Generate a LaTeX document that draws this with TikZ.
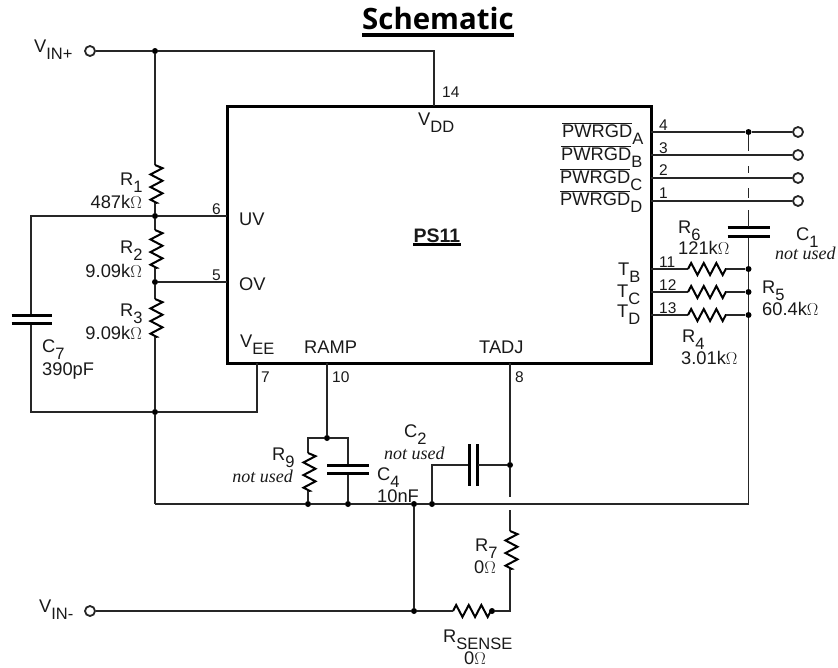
\documentclass[tikz,border=0pt]{standalone}
\usepackage{fontspec}
\setmainfont{Liberation Sans}
\newfontfamily\titlefont{Open Sans}
\newfontfamily\noteface{Liberation Serif}
\usetikzlibrary{decorations.pathmorphing}
\newcommand{\lsub}[2]{#1\raisebox{-7pt}{\fontsize{16.5}{16.5}\selectfont #2}}
\newcommand{\pwr}[1]{\lsub{$\overline{\mbox{PWRGD}}$}{#1}}
\tikzset{
    chip/.style = {rectangle, line width=3pt, draw=black, minimum width=424pt, minimum height=257pt, inner sep=0},
    wire/.style = {line width=1.2pt, draw=black!85},
    plate/.style = {line width=3pt, draw=black},
    res/.style = {line width=2pt, draw=black, decorate, decoration={zigzag, amplitude=6pt, segment length=12.6pt}},
    vres/.style = {line width=2pt, draw=black, decorate, decoration={zigzag, amplitude=6pt, segment length=12.6pt, raise=1.5pt}},
    dot/.style = {circle, fill=black, inner sep=0, minimum size=6pt},
    term/.style = {circle, line width=1.8pt, draw=black!85, fill=white, inner sep=0, minimum size=10pt},
    lbl/.style = {inner sep=0, anchor=base west, text=black!90, font=\fontsize{18.3}{18.3}\selectfont},
    lble/.style = {lbl, anchor=base east},
    pin/.style = {lbl, font=\fontsize{15.5}{15.5}\selectfont},
    note/.style = {lbl, font=\noteface\itshape\fontsize{18}{18}\selectfont},
    notee/.style = {note, anchor=base east},
}
\begin{document}
\begin{tikzpicture}[x=1pt,y=-1pt]
\useasboundingbox (0,0) rectangle (838,667);
%
\node[chip] at (439,234.5) (ps) {};
\node[inner sep=0, anchor=base west, font=\titlefont\bfseries\fontsize{29.4}{29.4}\selectfont] at (362,29) (title) {Schematic};
\node[lbl, anchor=base, font=\bfseries\fontsize{19.5}{19.5}\selectfont] at (437,242) (psname) {PS11};
\draw[line width=3.5pt] ([yshift=-6pt]title.base west) -- ([yshift=-6pt]title.base east);
\draw[line width=2.5pt] ([yshift=-2.5pt]psname.base west) -- ([yshift=-2.5pt]psname.base east);
%
\node[term] at (90,51) (vp) {};
\node[term] at (90,611) (vn) {};
\node[term] at (798,132) (ta) {};
\node[term] at (798,155) (tb) {};
\node[term] at (798,178) (tc) {};
\node[term] at (798,201) (td) {};
%
\node[dot] at (155,51) (j1) {};
\node[dot] at (155,216) (j2) {};
\node[dot] at (155,282) (j3) {};
\node[dot] at (155,412) (j4) {};
\node[dot] at (748.5,132) (j5) {};
\node[dot] at (748.5,269) (j6) {};
\node[dot] at (748.5,292) (j7) {};
\node[dot] at (748.5,315) (j8) {};
\node[dot] at (327,438) (j9) {};
\node[dot] at (308,504) (j10) {};
\node[dot] at (348,504) (j11) {};
\node[dot] at (414,504) (j12) {};
\node[dot] at (432,504) (j13) {};
\node[dot] at (510,465) (j14) {};
\node[dot] at (414,611) (j15) {};
\node[dot] at (492,611) (j16) {};
%
\coordinate (p14) at (434,106);
\coordinate (p6) at (227,216);
\coordinate (p5) at (227,282);
\coordinate (p7) at (257,363);
\coordinate (p10) at (327,363);
\coordinate (p8) at (510,363);
\coordinate (p4) at (651,132);
\coordinate (p3) at (651,155);
\coordinate (p2) at (651,178);
\coordinate (p1) at (651,201);
\coordinate (p11) at (651,269);
\coordinate (p12) at (651,292);
\coordinate (p13) at (651,315);
\coordinate (r1a) at (155,165);
\coordinate (r1b) at (155,203);
\coordinate (r2a) at (155,230);
\coordinate (r2b) at (155,268);
\coordinate (r3a) at (155,299);
\coordinate (r3b) at (155,337);
\coordinate (r6a) at (688,269);
\coordinate (r6b) at (726,269);
\coordinate (r5a) at (688,292);
\coordinate (r5b) at (726,292);
\coordinate (r4a) at (688,315);
\coordinate (r4b) at (726,315);
\coordinate (r9a) at (308,453);
\coordinate (r9b) at (308,491);
\coordinate (r7a) at (510,531);
\coordinate (r7b) at (510,569);
\coordinate (rsa) at (453,611);
\coordinate (rsb) at (491,611);
\coordinate (c7a) at (31,315);
\coordinate (c7b) at (31,323);
\coordinate (c1a) at (748.5,227);
\coordinate (c1b) at (748.5,236);
\coordinate (c4a) at (348,465);
\coordinate (c4b) at (348,473);
\coordinate (c2a) at (469,465);
\coordinate (c2b) at (477.5,465);
\coordinate (g1) at (155,504);
\coordinate (g2) at (748.5,504);
\coordinate (gapa) at (510,497);
\coordinate (gapb) at (510,510);
%
\draw[wire] (vp) -- (j1);
\draw[wire] (j1) -| (p14);
\draw[wire] (j1) -- (r1a);
\draw[vres] (r1a) -- (r1b);
\draw[wire] (r1b) -- (j2);
\draw[wire] (j2) -- (p6);
\draw[wire] (j2) -- (r2a);
\draw[vres] (r2a) -- (r2b);
\draw[wire] (r2b) -- (j3);
\draw[wire] (j3) -- (p5);
\draw[wire] (j3) -- (r3a);
\draw[vres] (r3a) -- (r3b);
\draw[wire] (r3b) -- (j4);
\draw[wire] (j2) -| (c7a);
\draw[wire] (c7b) |- (j4);
\draw[plate] (c7a) +(-19.5,0) -- +(21,0);
\draw[plate] (c7b) +(-19.5,0) -- +(21,0);
\draw[wire] (j4) -| (p7);
\draw[wire] (j4) -- (g1);
\draw[wire] (g1) -- (j10);
\draw[wire] (j10) -- (j11);
\draw[wire] (j11) -- (j12);
\draw[wire] (j12) -- (j13);
\draw[wire] (j13) -- (g2);
\draw[wire] (g2) -- (j8);
\draw[wire] (j8) -- (j7);
\draw[wire] (j7) -- (j6);
\draw[wire] (j6) -- (c1b);
\draw[plate] (c1a) +(-21,0) -- +(21,0);
\draw[plate] (c1b) +(-21,0) -- +(21,0);
\draw[wire, dash pattern=on 16pt off 15pt on 7pt off 15pt on 10pt off 12pt on 20pt off 5pt] (j5) -- (c1a);
%
\draw[wire] (p4) -- (j5);
\draw[wire] (j5) -- (ta);
\draw[wire] (p3) -- (tb);
\draw[wire] (p2) -- (tc);
\draw[wire] (p1) -- (td);
\draw[wire] (p11) -- (r6a);
\draw[res] (r6a) -- (r6b);
\draw[wire] (r6b) -- (j6);
\draw[wire] (p12) -- (r5a);
\draw[res] (r5a) -- (r5b);
\draw[wire] (r5b) -- (j7);
\draw[wire] (p13) -- (r4a);
\draw[res] (r4a) -- (r4b);
\draw[wire] (r4b) -- (j8);
%
\draw[wire] (p10) -- (j9);
\draw[wire] (j9) -| (r9a);
\draw[vres] (r9a) -- (r9b);
\draw[wire] (r9b) -- (j10);
\draw[wire] (j9) -| (c4a);
\draw[wire] (c4b) -- (j11);
\draw[plate] (c4a) +(-21,0) -- +(21,0);
\draw[plate] (c4b) +(-21,0) -- +(21,0);
\draw[wire] (j13) |- (c2a);
\draw[plate] (c2a) +(0,-21) -- +(0,21);
\draw[plate] (c2b) +(0,-21) -- +(0,21);
\draw[wire] (c2b) -- (j14);
\draw[wire] (p8) -- (j14);
\draw[wire] (j14) -- (gapa);
\draw[wire] (gapb) -- (r7a);
\draw[vres] (r7a) -- (r7b);
\draw[wire] (r7b) |- (j16);
\draw[res] (rsa) -- (rsb);
\draw[wire] (j15) -- (rsa);
\draw[wire] (j12) -- (j15);
\draw[wire] (vn) -- (j15);
%
\node[lbl] at (34,52) (lvp) {\lsub{V}{IN+}};
\node[lbl] at (39,612) (lvn) {\lsub{V}{IN-}};
\node[lbl] at (120,185) (lr1) {\lsub{R}{1}};
\node[lble] at (142,208) (vr1) {487k$\Omega$};
\node[lbl] at (120,253) (lr2) {\lsub{R}{2}};
\node[lble] at (142,277) (vr2) {9.09k$\Omega$};
\node[lbl] at (120,316) (lr3) {\lsub{R}{3}};
\node[lble] at (142,339) (vr3) {9.09k$\Omega$};
\node[lbl] at (42,352) (lc7) {\lsub{C}{7}};
\node[lbl] at (42,375) (vc7) {390pF};
\node[lbl] at (239,225) (luv) {UV};
\node[lbl] at (239,290) (lov) {OV};
\node[lbl] at (240,347) (lvee) {\lsub{V}{EE}};
\node[lbl] at (304,353) (lramp) {RAMP};
\node[lbl] at (479,353) (ltadj) {TADJ};
\node[lbl] at (418,125) (lvdd) {\lsub{V}{DD}};
\node[pin] at (442,97) (n14) {14};
\node[pin] at (212,214) (n6) {6};
\node[pin] at (212,280) (n5) {5};
\node[pin] at (261,382) (n7) {7};
\node[pin] at (332,382) (n10) {10};
\node[pin] at (515,382) (n8) {8};
\node[pin] at (659,130) (n4) {4};
\node[pin] at (659,153) (n3) {3};
\node[pin] at (659,175) (n2) {2};
\node[pin] at (659,198) (n1) {1};
\node[pin] at (659,267) (n11) {11};
\node[pin] at (659,290) (n12) {12};
\node[pin] at (659,313) (n13) {13};
\node[lbl] at (562,137) (lpa) {\pwr{A}};
\node[lbl] at (561,160) (lpb) {\pwr{B}};
\node[lbl] at (560,183) (lpc) {\pwr{C}};
\node[lbl] at (560,205) (lpd) {\pwr{D}};
\node[lbl] at (618,275) (ltb) {\lsub{T}{B}};
\node[lbl] at (617,297) (ltc) {\lsub{T}{C}};
\node[lbl] at (617,317) (ltd) {\lsub{T}{D}};
\node[lbl] at (678,233) (lr6) {\lsub{R}{6}};
\node[lbl] at (678,254) (vr6) {121k$\Omega$};
\node[lbl] at (796,240) (lc1) {\lsub{C}{1}};
\node[note] at (775,259) (nc1) {not used};
\node[lbl] at (762,293) (lr5) {\lsub{R}{5}};
\node[lbl] at (762,315) (vr5) {60.4k$\Omega$};
\node[lbl] at (682,342) (lr4) {\lsub{R}{4}};
\node[lbl] at (681,364) (vr4) {3.01k$\Omega$};
\node[lbl] at (404,437) (lc2) {\lsub{C}{2}};
\node[note] at (384,459) (nc2) {not used};
\node[lbl] at (272,460) (lr9) {\lsub{R}{9}};
\node[notee] at (293,482) (nr9) {not used};
\node[lbl] at (377,480) (lc4) {\lsub{C}{4}};
\node[lbl] at (377,502) (vc4) {10nF};
\node[lbl] at (475,551) (lr7) {\lsub{R}{7}};
\node[lble] at (496,573) (vr7) {0$\Omega$};
\node[lbl] at (443,642) (lrs) {\lsub{R}{SENSE}};
\node[lbl] at (464,664) (vrs) {0$\Omega$};
%
\end{tikzpicture}
\end{document}
